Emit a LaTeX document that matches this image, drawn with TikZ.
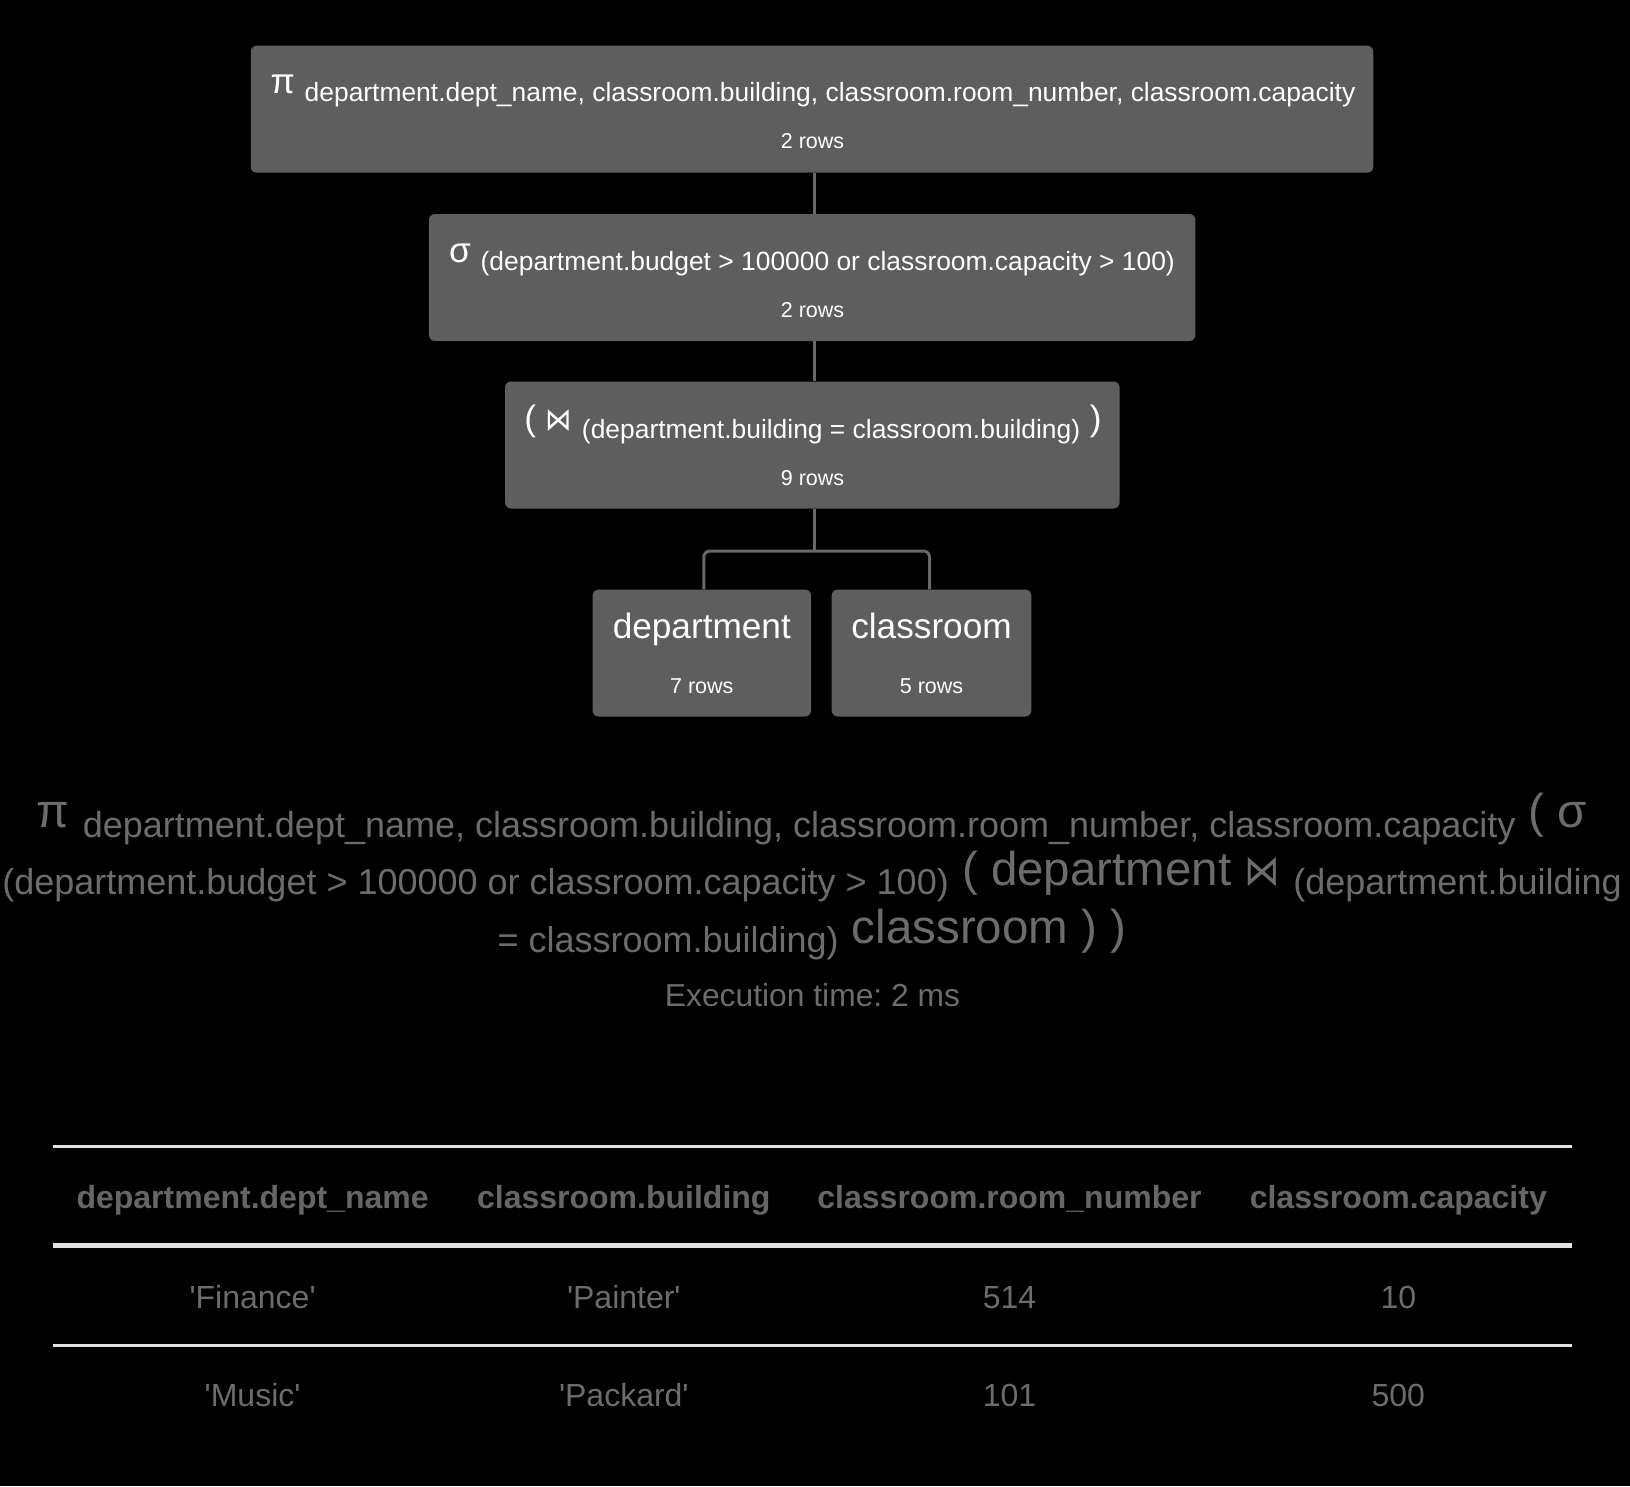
\documentclass[tikz,border=0pt]{standalone}
\usepackage{fontspec}
\usepackage{graphicx}
\setmainfont{Liberation Sans}
\newfontfamily\symf{DejaVu Sans}
\definecolor{boxgray}{HTML}{5E5E5E}
\definecolor{conngray}{HTML}{686868}
\definecolor{txtgray}{HTML}{6C6C6C}
\definecolor{hdrgray}{HTML}{666666}
\definecolor{linegray}{HTML}{E2E2E6}
\newcommand{\tbig}{\fontsize{35.2}{40}\selectfont}
\newcommand{\tsml}{\fontsize{26.4}{30}\selectfont}
\newcommand{\trow}{\fontsize{21.5}{25}\selectfont}
\newcommand{\bbig}{\fontsize{47.5}{55}\selectfont}
\newcommand{\bsml}{\fontsize{36}{42}\selectfont}
\newcommand{\bcell}{\fontsize{32}{38}\selectfont}
\newcommand{\lowr}[2]{\raisebox{-#1}{#2}}
\newcommand{\sq}{\textquotesingle}
\newcommand{\bowtiech}{\scalebox{0.75}[0.9]{\symf ⋈}}
\frenchspacing
\tikzset{
  opbox/.style={fill=boxgray, rounded corners=6pt, inner sep=0pt, draw=none},
  wt/.style={text=white, inner sep=0pt, anchor=base},
  gt/.style={text=txtgray, inner sep=0pt, anchor=base},
  ht/.style={text=hdrgray, inner sep=0pt, anchor=base, font=\bcell\bfseries},
  ct/.style={text=txtgray, inner sep=0pt, anchor=base, font=\bcell},
  conn/.style={draw=conngray, line width=3pt},
  tline/.style={draw=linegray, line width=2.5pt},
  tthick/.style={draw=linegray, line width=4.5pt}
}
\begin{document}
\begin{tikzpicture}[x=1pt,y=-1pt]
\fill[black] (0,0) rectangle (1630,1486);
\useasboundingbox (0,0) rectangle (1630,1486);

% operator boxes
\node[opbox, minimum width=1122.5pt, minimum height=127pt] (proj) at (812,109.2) {};
\node[opbox, minimum width=766.5pt, minimum height=127pt] (sel) at (812.2,277.5) {};
\node[opbox, minimum width=614.6pt, minimum height=127pt] (join) at (812.3,445) {};
\node[opbox, minimum width=218.4pt, minimum height=127pt] (dept) at (701.8,653) {};
\node[opbox, minimum width=199.6pt, minimum height=127pt] (class) at (931.5,653) {};

% box texts
\node[wt] (projt) at (813,93) {\tbig π \lowr{8pt}{\tsml department.dept\_name, classroom.building, classroom.room\_number, classroom.capacity}};
\node[wt] (projr) at (812.5,148.7) {\trow 2 rows};
\node[wt] (selt) at (812,262) {\tbig σ \lowr{8pt}{\tsml (department.budget > 100000 or classroom.capacity > 100)}};
\node[wt] (selr) at (812.5,317) {\trow 2 rows};
\node[wt] (joint) at (813,430) {\tbig ( \bowtiech\ \lowr{8pt}{\tsml (department.building = classroom.building)} )};
\node[wt] (joinr) at (812.5,485.5) {\trow 9 rows};
\node[wt] (deptt) at (701.8,638) {\tbig department};
\node[wt] (deptr) at (701.8,693.4) {\trow 7 rows};
\node[wt] (classt) at (931.5,638) {\tbig classroom};
\node[wt] (classr) at (931.5,693.4) {\trow 5 rows};

% connectors
\coordinate (fork) at (814,551);
\draw[conn] (proj.south -| fork) -- (sel.north -| fork);
\draw[conn] (sel.south -| fork) -- (join.north -| fork);
\draw[conn] (join.south -| fork) -- (fork);
\draw[conn, rounded corners=6pt] (fork) -| ([xshift=2pt]dept.north);
\draw[conn, rounded corners=6pt] (fork) -| ([xshift=-2pt]class.north);

% expression text
\node[gt] (expr1) at (812,827) {\bbig π \lowr{10pt}{\bsml department.dept\_name, classroom.building, classroom.room\_number, classroom.capacity} ( σ};
\node[gt] (expr2) at (812,885) {\bbig\lowr{9pt}{\bsml (department.budget > 100000 or classroom.capacity > 100)} ( department \bowtiech\ \lowr{9pt}{\bsml (department.building}};
\node[gt] (expr3) at (812,943) {\bbig\lowr{9pt}{\bsml = classroom.building)} classroom ) )};
\node[gt] (exec) at (812.5,1006) {\fontsize{31.8}{38}\selectfont Execution time: 2 ms};

% result table
\draw[tline] (53,1146.7) -- (1572,1146.7);
\draw[tthick] (53,1245.5) -- (1572,1245.5);
\draw[tline] (53,1345.3) -- (1572,1345.3);
\node[ht] (h1) at (252.6,1208) {department.dept\_name};
\node[ht] (h2) at (623.8,1208) {classroom.building};
\node[ht] (h3) at (1009.5,1208) {classroom.room\_number};
\node[ht] (h4) at (1398.3,1208) {classroom.capacity};
\node[ct] (r11) at (252.6,1308) {\sq Finance\sq};
\node[ct] (r12) at (623.8,1308) {\sq Painter\sq};
\node[ct] (r13) at (1009.5,1308) {514};
\node[ct] (r14) at (1398.3,1308) {10};
\node[ct] (r21) at (252.6,1406.6) {\sq Music\sq};
\node[ct] (r22) at (623.8,1406.6) {\sq Packard\sq};
\node[ct] (r23) at (1009.5,1406.6) {101};
\node[ct] (r24) at (1398.3,1406.6) {500};
\end{tikzpicture}
\end{document}
